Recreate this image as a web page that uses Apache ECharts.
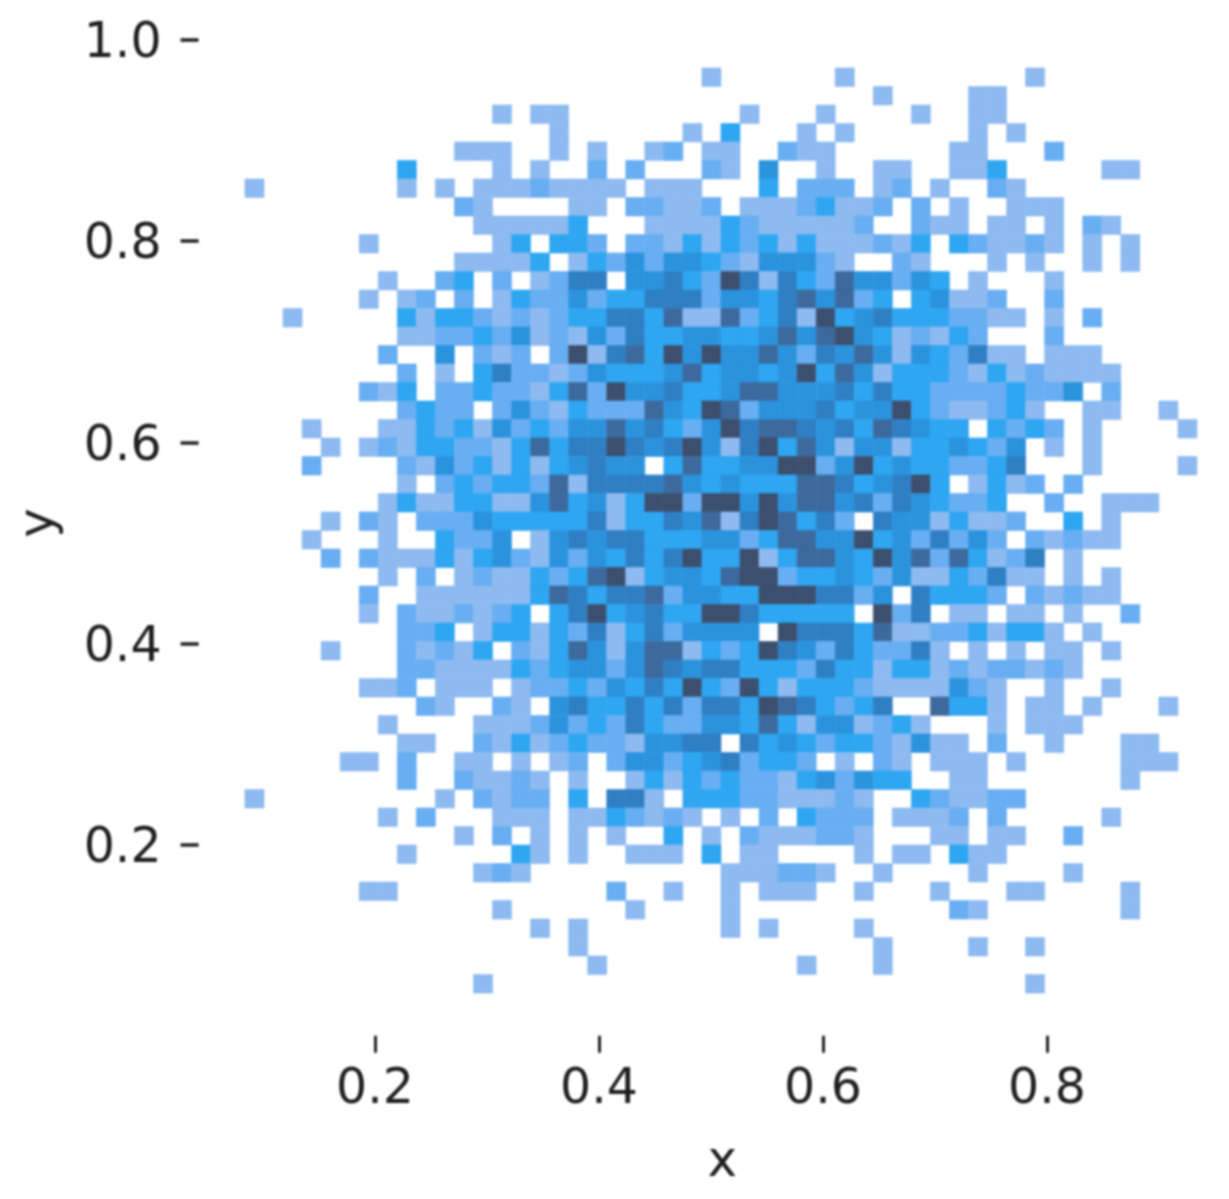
<!DOCTYPE html>
<html>
<head>
<meta charset="utf-8">
<title>hist2d</title>
<script src="https://cdn.jsdelivr.net/npm/echarts@6/dist/echarts.min.js"></script>
<style>
  html, body { margin: 0; padding: 0; background: #fff; }
  #chart { width: 1229px; height: 1199px; filter: blur(1.2px); }
</style>
</head>
<body>
<div id="chart"></div>
<script>
// tick labels
var xTicks = [0.2, 0.4, 0.6, 0.8];
var yTicks = [0.2, 0.4, 0.6, 0.8, 1.0];

// bin layout
var xFirstEdge = 0.0839;
var xBinWidth = 0.0170;
var yTopEdge = 0.9722;
var yBinHeight = 0.01839;

// fill by count, 1 to 7
var levelColors = ['#ffffff', '#8dbaf0', '#68aef2', '#2ea6f1', '#2b93de', '#2f7fc4', '#3c6a9e', '#3c4f6e'];

// counts per bin, first row is the top one
var counts = [
  [0,0,0,0,0,0,0,0,0,0,0,0,0,0,0,0,0,0,0,0,0,0,0,0,1,0,0,0,0,0,0,1,0,0,0,0,0,0,0,0,0,1,0,0,0,0,0,0,0,0],
  [0,0,0,0,0,0,0,0,0,0,0,0,0,0,0,0,0,0,0,0,0,0,0,0,0,0,0,0,0,0,0,0,0,1,0,0,0,0,1,1,0,0,0,0,0,0,0,0,0,0],
  [0,0,0,0,0,0,0,0,0,0,0,0,0,1,0,1,1,0,0,0,0,0,0,0,0,0,1,0,0,0,1,0,0,0,0,1,0,0,1,1,0,0,0,0,0,0,0,0,0,0],
  [0,0,0,0,0,0,0,0,0,0,0,0,0,0,0,0,1,0,0,0,0,0,0,1,0,3,0,0,0,1,0,1,0,0,0,0,0,0,1,0,1,0,0,0,0,0,0,0,0,0],
  [0,0,0,0,0,0,0,0,0,0,0,1,1,1,0,0,1,0,1,0,0,1,2,0,1,1,0,0,2,1,1,0,0,0,0,0,0,1,1,0,0,0,2,0,0,0,0,0,0,0],
  [0,0,0,0,0,0,0,0,3,0,0,0,0,1,0,1,0,0,2,0,2,0,0,0,2,1,0,4,0,0,1,0,0,1,1,0,0,1,1,3,0,0,0,0,0,1,1,0,0,0],
  [1,0,0,0,0,0,0,0,1,0,1,0,1,1,1,2,1,1,1,1,0,1,1,1,0,0,0,3,0,2,2,2,0,1,2,0,1,0,0,2,1,0,0,0,0,0,0,0,0,0],
  [0,0,0,0,0,0,0,0,0,0,0,2,1,0,0,0,0,1,1,0,2,2,1,1,2,0,1,1,1,2,3,1,1,2,0,2,0,1,0,0,1,1,1,0,0,0,0,0,0,0],
  [0,0,0,0,0,0,0,0,0,0,0,0,1,1,1,1,1,3,0,0,0,1,1,1,1,3,2,1,1,1,1,1,2,0,0,2,1,1,0,1,1,0,1,0,2,1,0,0,0,0],
  [0,0,0,0,0,0,1,0,0,0,0,0,0,1,3,0,3,3,2,0,2,2,1,3,1,3,2,3,1,3,1,1,1,2,1,3,0,3,2,1,1,2,1,0,1,0,1,0,0,0],
  [0,0,0,0,0,0,0,0,0,0,0,1,1,1,1,3,0,1,3,2,4,2,4,4,3,2,1,4,4,4,2,1,0,0,2,1,0,0,0,1,0,1,0,0,1,0,1,0,0,0],
  [0,0,0,0,0,0,0,1,0,0,2,3,0,2,0,1,2,5,5,0,4,4,5,3,2,7,5,1,5,3,2,6,4,4,2,4,3,0,1,0,0,0,1,0,0,0,0,0,0,0],
  [0,0,0,0,0,0,1,0,1,2,0,2,0,1,3,2,2,4,2,3,3,5,5,5,2,4,4,3,5,6,4,6,2,3,0,3,4,1,1,2,0,0,2,0,0,0,0,0,0,0],
  [0,0,1,0,0,0,0,0,3,1,3,3,2,1,2,1,2,3,3,5,5,3,6,1,1,6,2,3,5,1,7,3,4,5,3,3,3,2,2,1,1,0,1,0,2,0,0,0,0,0],
  [0,0,0,0,0,0,0,0,1,1,2,2,3,2,4,1,2,1,4,2,5,3,3,4,4,3,3,4,6,4,6,7,4,3,1,2,1,3,2,0,0,0,2,0,0,0,0,0,0,0],
  [0,0,0,0,0,0,0,2,0,0,4,0,2,1,2,0,2,7,1,5,6,3,7,4,7,4,4,6,4,2,5,4,6,4,1,4,3,2,5,1,1,0,1,1,1,0,0,0,0,0],
  [0,0,0,0,0,0,0,0,2,0,1,0,3,5,2,2,1,2,4,3,3,3,4,6,3,4,4,3,4,7,3,6,4,1,3,3,3,2,1,3,1,2,1,1,1,1,0,0,0,0],
  [0,0,0,0,0,0,2,1,3,0,2,2,3,2,2,1,3,6,2,7,4,4,5,3,3,4,6,6,4,4,4,5,3,5,3,3,2,2,2,2,3,2,2,4,0,2,0,0,0,0],
  [0,0,0,0,0,0,0,0,2,3,2,2,0,2,4,2,1,3,2,2,2,6,4,3,7,6,2,4,4,4,5,3,4,4,7,3,2,1,1,2,3,1,0,0,1,1,0,0,1,0],
  [0,0,0,1,0,0,0,1,1,3,2,3,1,4,2,3,2,4,4,6,4,5,3,2,4,7,5,6,6,5,4,5,3,6,5,4,3,3,0,3,2,3,2,0,1,0,0,0,0,1],
  [0,0,0,0,1,0,1,2,1,3,3,2,2,1,3,6,3,5,5,7,5,4,5,7,4,1,5,7,3,6,4,1,4,4,1,3,3,4,3,2,4,0,1,0,1,0,0,0,0,0],
  [0,0,0,2,0,0,0,0,2,1,4,2,3,1,3,1,3,4,5,4,4,0,3,6,3,3,4,4,7,7,2,4,7,3,4,3,3,2,2,3,5,0,0,0,1,0,0,0,0,1],
  [0,0,0,0,0,0,0,0,1,0,2,3,2,3,3,2,6,1,5,5,5,5,6,4,3,4,3,3,3,6,6,5,3,4,5,7,3,0,1,3,1,2,0,2,0,0,0,0,0,0],
  [0,0,0,0,0,0,0,1,3,1,1,3,3,1,1,4,6,3,4,1,3,7,7,2,7,7,4,7,4,6,6,4,5,2,5,4,3,2,2,3,0,0,2,0,0,1,1,1,0,0],
  [0,0,0,0,1,0,2,1,0,2,2,2,4,3,3,3,3,3,5,1,3,3,5,4,6,1,5,7,6,3,5,2,0,5,4,4,1,3,1,1,2,0,0,3,0,1,0,0,0,0],
  [0,0,0,1,0,0,0,1,0,0,3,2,2,4,0,1,4,5,4,5,5,3,3,3,4,4,2,3,6,6,4,4,7,3,4,2,5,2,4,2,0,2,1,2,1,1,0,0,0,0],
  [0,0,0,0,2,0,2,1,1,1,3,1,3,4,2,1,4,2,4,3,5,3,5,7,3,3,7,1,3,6,6,4,3,7,4,6,2,6,3,1,2,5,0,1,0,0,0,0,0,0],
  [0,0,0,0,0,0,0,1,0,2,0,1,2,1,1,3,2,3,6,7,1,3,4,4,3,6,7,7,2,3,3,4,3,2,4,1,1,3,2,5,1,1,0,1,0,1,0,0,0,0],
  [0,0,0,0,0,0,2,0,0,1,1,1,1,1,1,3,6,5,3,5,5,6,2,4,4,3,3,7,7,7,5,5,2,4,0,5,3,3,3,2,0,2,1,2,1,1,0,0,0,0],
  [0,0,0,0,0,0,1,0,2,1,1,2,1,2,3,0,3,5,7,3,4,5,3,3,7,7,5,3,3,3,3,3,0,7,2,5,0,1,1,0,1,1,0,1,0,0,2,0,0,0],
  [0,0,0,0,0,0,0,0,2,2,3,0,1,3,3,1,3,2,5,1,3,5,2,4,4,4,4,0,7,5,5,5,3,6,1,1,2,2,3,1,3,3,1,0,1,0,0,0,0,0],
  [0,0,0,0,1,0,0,0,2,1,2,1,3,0,2,1,3,6,4,1,4,6,6,1,3,2,3,7,5,4,2,5,3,2,2,5,1,0,1,0,1,0,1,1,0,1,0,0,0,0],
  [0,0,0,0,0,0,0,0,2,2,1,1,1,1,3,2,3,4,4,2,4,6,5,4,5,5,3,3,3,2,5,3,3,1,3,3,1,2,1,2,2,1,2,1,0,0,0,0,0,0],
  [0,0,0,0,0,0,1,1,2,0,1,1,1,0,1,2,2,3,2,4,3,5,3,7,3,2,7,3,1,3,3,3,2,1,1,1,1,4,2,1,0,0,1,0,0,1,0,0,0,0],
  [0,0,0,0,0,0,0,0,0,2,1,0,0,2,1,0,4,5,3,3,5,3,5,2,5,5,3,7,6,5,3,2,3,5,0,0,6,3,3,1,0,1,1,0,1,0,0,0,1,0],
  [0,0,0,0,0,0,0,1,0,0,0,0,1,1,1,2,4,2,3,2,5,3,2,2,4,4,3,6,3,1,4,4,1,2,3,1,0,0,0,1,0,1,1,1,0,0,0,0,0,0],
  [0,0,0,0,0,0,0,0,1,1,0,0,2,1,3,1,2,3,2,2,1,4,4,5,5,0,5,3,4,3,2,3,3,2,1,4,1,1,0,2,0,0,1,0,0,0,1,1,0,0],
  [0,0,0,0,0,1,1,0,2,0,0,1,1,0,1,0,1,2,0,2,4,4,2,3,4,5,2,3,3,2,0,1,0,2,1,0,1,1,1,0,1,0,0,0,0,0,1,1,1,0],
  [0,0,0,0,0,0,0,0,2,0,0,2,1,1,2,1,0,1,0,0,1,3,1,3,2,3,2,2,1,3,4,2,4,3,3,0,0,1,1,0,0,0,0,0,0,0,1,0,0,0],
  [1,0,0,0,0,0,0,0,0,0,1,0,2,1,2,2,0,3,0,5,5,1,0,3,3,3,2,2,1,1,1,2,1,0,0,3,2,1,1,2,2,0,0,0,0,0,0,0,0,0],
  [0,0,0,0,0,0,0,1,0,2,0,0,0,1,1,1,0,1,1,3,2,1,2,1,0,1,0,2,0,3,2,2,2,0,1,1,1,2,0,2,0,0,0,0,0,1,0,0,0,0],
  [0,0,0,0,0,0,0,0,0,0,0,1,0,2,0,1,0,1,0,1,0,0,3,0,1,0,2,1,1,1,2,2,1,0,0,0,1,1,0,1,1,0,0,2,0,0,0,0,0,0],
  [0,0,0,0,0,0,0,0,1,0,0,0,0,0,3,1,0,1,0,0,1,1,1,0,3,0,1,1,0,0,0,0,1,0,1,1,0,3,1,1,0,0,0,0,0,0,0,0,0,0],
  [0,0,0,0,0,0,0,0,0,0,0,0,1,2,1,0,0,0,0,0,0,0,0,0,0,1,1,1,2,2,1,0,0,1,0,0,0,0,1,0,0,0,0,1,0,0,0,0,0,0],
  [0,0,0,0,0,0,1,1,0,0,0,0,0,0,0,0,0,0,0,2,0,0,1,0,0,1,0,1,1,1,0,0,1,0,0,0,1,0,0,0,1,1,0,0,0,0,1,0,0,0],
  [0,0,0,0,0,0,0,0,0,0,0,0,0,1,0,0,0,0,0,0,1,0,0,0,0,1,0,0,0,0,0,0,0,0,0,0,0,2,1,0,0,0,0,0,0,0,1,0,0,0],
  [0,0,0,0,0,0,0,0,0,0,0,0,0,0,0,1,0,1,0,0,0,0,0,0,0,1,0,1,0,0,0,0,1,0,0,0,0,0,0,0,0,0,0,0,0,0,0,0,0,0],
  [0,0,0,0,0,0,0,0,0,0,0,0,0,0,0,0,0,1,0,0,0,0,0,0,0,0,0,0,0,0,0,0,0,1,0,0,0,0,1,0,0,1,0,0,0,0,0,0,0,0],
  [0,0,0,0,0,0,0,0,0,0,0,0,0,0,0,0,0,0,1,0,0,0,0,0,0,0,0,0,0,1,0,0,0,1,0,0,0,0,0,0,0,0,0,0,0,0,0,0,0,0],
  [0,0,0,0,0,0,0,0,0,0,0,0,1,0,0,0,0,0,0,0,0,0,0,0,0,0,0,0,0,0,0,0,0,0,0,0,0,0,0,0,0,1,0,0,0,0,0,0,0,0]
];

var cells = [];
counts.forEach(function (row, r) {
  row.forEach(function (c, i) {
    if (c > 0) {
      cells.push([xFirstEdge + i * xBinWidth, yTopEdge - r * yBinHeight, c]);
    }
  });
});

function renderCell(params, api) {
  var a = api.coord([api.value(0), api.value(1)]);
  var b = api.coord([api.value(0) + xBinWidth, api.value(1) - yBinHeight]);
  var color = levelColors[api.value(2)];
  return {
    type: 'rect',
    shape: { x: a[0], y: a[1], width: b[0] - a[0], height: b[1] - a[1] },
    style: { fill: color, stroke: color, lineWidth: 0.6 }
  };
}

var font = '"DejaVu Sans", sans-serif';
var myChart = echarts.init(document.getElementById('chart'));
myChart.setOption({
  animation: false,
  backgroundColor: '#ffffff',
  grid: { left: 240.6, top: 40, width: 963.2, height: 965.8, outerBoundsMode: 'none' },
  xAxis: {
    type: 'value',
    min: 0.08,
    max: 0.94,
    offset: 30,
    splitLine: { show: false },
    axisLine: { show: false },
    axisTick: { show: true, length: 17, customValues: xTicks, lineStyle: { color: '#222', width: 3 } },
    axisLabel: { customValues: xTicks, margin: 30, fontFamily: font, fontSize: 49, color: '#1f1f1f',
      formatter: function (v) { return v.toFixed(1); } },
    name: 'x',
    nameLocation: 'middle',
    nameGap: 102,
    nameTextStyle: { fontFamily: font, fontSize: 50, color: '#1f1f1f' }
  },
  yAxis: {
    type: 'value',
    min: 0.04,
    max: 1.0,
    offset: 42,
    splitLine: { show: false },
    axisLine: { show: false },
    axisTick: { show: true, length: 18, customValues: yTicks, lineStyle: { color: '#222', width: 3.5 } },
    axisLabel: { customValues: yTicks, margin: 37, verticalAlign: 'top', lineHeight: 9, fontFamily: font, fontSize: 49, color: '#1f1f1f',
      formatter: function (v) { return v.toFixed(1); } },
    name: 'y',
    nameLocation: 'middle',
    nameGap: 134,
    nameTextStyle: { fontFamily: font, fontSize: 50, color: '#1f1f1f' }
  },
  series: [{
    type: 'custom',
    renderItem: renderCell,
    encode: { x: 0, y: 1 },
    data: cells,
    silent: true
  }]
});
</script>
</body>
</html>
